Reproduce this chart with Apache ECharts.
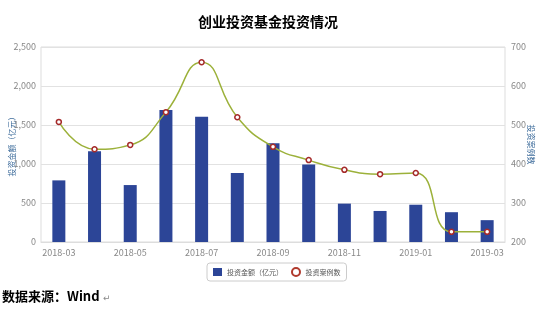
<!DOCTYPE html>
<html><head><meta charset="utf-8">
<script src="https://cdn.jsdelivr.net/npm/echarts@6/dist/echarts.min.js"></script>
<style>html,body{margin:0;padding:0;background:#fff;}#c{width:549px;height:313px;}</style>
</head><body><div id="c"></div>
<script>
const categories = ['2018-03','2018-04','2018-05','2018-06','2018-07','2018-08','2018-09','2018-10','2018-11','2018-12','2019-01','2019-02','2019-03'];
const amount = [790, 1165, 730, 1692, 1607, 885, 1265, 992, 492, 398, 478, 382, 280];
const cases = [508, 438, 449, 533, 661, 520, 444, 410, 385, 374, 377, 226, 226];
const leftTicks = [0, 500, 1000, 1500, 2000, 2500];
const rightTicks = [200, 300, 400, 500, 600, 700];
const titleText = '创业投资基金投资情况';
const sourceText = '数据来源：Wind';

const chart = echarts.init(document.getElementById('c'), null, {renderer: 'canvas'});
const font = '"Noto Sans CJK SC", "Noto Sans", sans-serif';
chart.setOption({
  animation: false,
  textStyle: {fontFamily: font},
  title: [{
    text: titleText, left: 263, top: 10, textAlign: 'center',
    textStyle: {fontSize: 14, fontWeight: 'bold', color: '#000', fontFamily: font}
  }],
  graphic: [{
    type: 'text', left: 2, top: 290,
    style: {text: sourceText, font: 'bold 13px "Noto Sans CJK SC", sans-serif', fill: '#000'}
  }, {
    type: 'text', left: 103, top: 294,
    style: {text: '↵', font: '9px "DejaVu Sans", sans-serif', fill: '#888'}
  }],
  legend: {
    top: 263, left: 207, padding: [4, 6], itemGap: 8,
    borderColor: '#ccc', borderWidth: 1, borderRadius: 3,
    itemWidth: 9, itemHeight: 8,
    textStyle: {fontSize: 7, color: '#555'},
    data: [
      {name: '投资金额（亿元）', icon: 'rect'},
      {name: '投资案例数', icon: 'circle', itemStyle: {color: '#fff', borderColor: '#b03a2e', borderWidth: 2}}
    ]
  },
  grid: {left: 41, right: 44, top: 47, bottom: 71, show: true, borderColor: '#ddd', borderWidth: 1,
         containLabel: false, outerBoundsMode: 'none'},
  xAxis: {
    type: 'category', data: categories,
    axisLine: {lineStyle: {color: '#ddd'}}, axisTick: {show: false},
    axisLabel: {interval: 1, color: '#888', fontSize: 9, margin: 6}
  },
  yAxis: [{
    type: 'value', min: leftTicks[0], max: leftTicks[leftTicks.length-1], interval: 500,
    name: '投资金额（亿元）', nameLocation: 'middle', nameRotate: 90, nameGap: 25, nameMoveOverlap: false,
    nameTextStyle: {color: '#3f6d9c', fontSize: 8},
    axisLine: {show: false}, axisTick: {show: false},
    axisLabel: {color: '#888', fontSize: 9, margin: 5, formatter: v => v.toLocaleString('en-US')},
    splitLine: {lineStyle: {color: '#e2e2e2'}}
  }, {
    type: 'value', min: rightTicks[0], max: rightTicks[rightTicks.length-1], interval: 100,
    name: '投资案例数', nameLocation: 'middle', nameRotate: -90, nameGap: 22, nameMoveOverlap: false,
    nameTextStyle: {color: '#3f6d9c', fontSize: 8},
    axisLine: {show: false}, axisTick: {show: false},
    axisLabel: {color: '#888', fontSize: 9, margin: 6},
    splitLine: {show: false}
  }],
  series: [{
    name: '投资金额（亿元）', type: 'bar', data: amount, barWidth: 13,
    itemStyle: {color: '#2c4597'}
  }, {
    name: '投资案例数', type: 'line', yAxisIndex: 1, data: cases, smooth: 0.5,
    symbol: 'circle', symbolSize: 5,
    lineStyle: {color: '#9cb13a', width: 1.5},
    itemStyle: {color: '#fff', borderColor: '#a52a2a', borderWidth: 1.5}
  }]
});
</script></body></html>
